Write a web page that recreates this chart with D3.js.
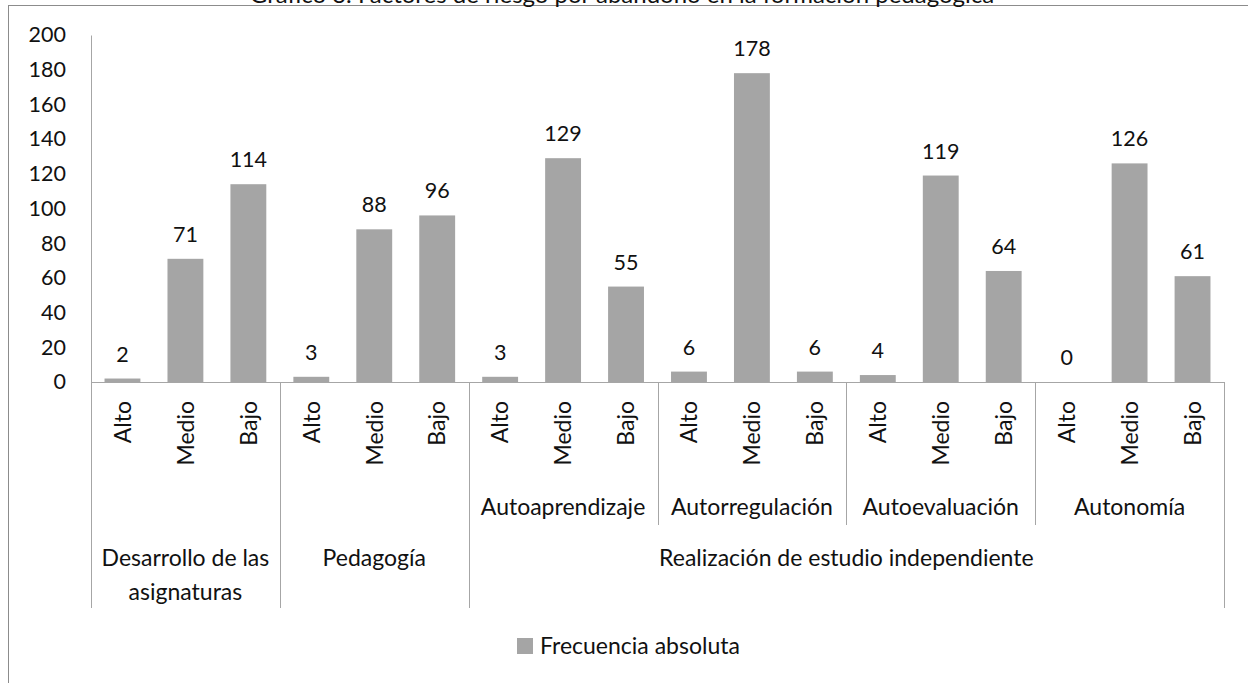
<!DOCTYPE html>
<html>
<head>
<meta charset="utf-8">
<script src="https://cdn.jsdelivr.net/npm/d3@7"></script>
<style>
  html, body { margin: 0; padding: 0; background: #fff; }
  svg { display: block; font-family: Lato, "Open Sans", sans-serif; }
</style>
</head>
<body>
<svg id="chart" width="1248" height="683"></svg>
<script>
// ---- Data ----
const titleText = "Gráfico 3. Factores de riesgo por abandono en la formación pedagógica";
const groups = ["Desarrollo de las asignaturas", "Pedagogía", "Realización de estudio independiente"];
const clusterGroup = [0, 1, 2, 2, 2, 2];
const clusterSub = [null, null, "Autoaprendizaje", "Autorregulación", "Autoevaluación", "Autonomía"];
const levels = ["Alto", "Medio", "Bajo"];
const values = [2, 71, 114, 3, 88, 96, 3, 129, 55, 6, 178, 6, 4, 119, 64, 0, 126, 61];
const yTicks = [0, 20, 40, 60, 80, 100, 120, 140, 160, 180, 200];
const seriesName = "Frecuencia absoluta";

// ---- Build category table ----
const cats = values.map((v, i) => ({
  idx: i,
  level: levels[i % 3],
  cluster: Math.floor(i / 3),
  value: v
}));

const svg = d3.select("#chart");
const pLeft = 91, pRight = 1224, pTop = 35, pBottom = 382;
const barColor = "#a5a5a5";
const lineColor = "#a6a6a6";
const textColor = "#111111";

const x = d3.scaleBand().domain(cats.map(d => d.idx)).range([pLeft, pRight]).paddingInner(0.43).paddingOuter(0.215);
const step = (pRight - pLeft) / cats.length;
const y = d3.scaleLinear().domain([0, 200]).range([pBottom, pTop]);

// outer frame
svg.append("rect").attr("x", 8.5).attr("y", 5.5).attr("width", 1300).attr("height", 800)
  .attr("fill", "none").attr("stroke", "#8c8c8c").attr("stroke-width", 1);

// title (clipped at top in the reference)
svg.append("text").attr("x", 622).attr("y", 3).attr("text-anchor", "middle")
  .attr("font-size", 24).attr("fill", textColor).text(titleText);

// y axis
const yAxis = d3.axisLeft(y).tickValues(yTicks).tickSize(0).tickPadding(25);
const gy = svg.append("g").attr("transform", `translate(${pLeft},0)`).call(yAxis);
gy.select(".domain").attr("stroke", lineColor);
gy.selectAll("text").attr("font-size", 21.5).attr("fill", textColor).attr("font-family", "Lato, sans-serif");

// bars
svg.append("g").selectAll("rect").data(cats).join("rect")
  .attr("x", d => x(d.idx)).attr("width", x.bandwidth())
  .attr("y", d => y(d.value)).attr("height", d => y(0) - y(d.value))
  .attr("fill", barColor);

// value labels
svg.append("g").selectAll("text").data(cats).join("text")
  .attr("x", d => x(d.idx) + x.bandwidth() / 2)
  .attr("y", d => y(d.value) - 17)
  .attr("text-anchor", "middle").attr("font-size", 21.5).attr("fill", textColor)
  .text(d => d.value);

// x axis line
svg.append("line").attr("x1", pLeft).attr("x2", pRight).attr("y1", pBottom + 0.5).attr("y2", pBottom + 0.5)
  .attr("stroke", lineColor);

// separators
const nClusters = clusterSub.length;
for (let c = 0; c <= nClusters; c++) {
  const xx = pLeft + c * 3 * step;
  const isGroupEdge = c === 0 || c === nClusters || clusterGroup[c] !== clusterGroup[c - 1];
  svg.append("line").attr("x1", Math.round(xx) + 0.5).attr("x2", Math.round(xx) + 0.5)
    .attr("y1", pBottom).attr("y2", isGroupEdge ? 608 : 525)
    .attr("stroke", lineColor);
}

// level labels (rotated)
svg.append("g").selectAll("text").data(cats).join("text")
  .attr("transform", d => `translate(${x(d.idx) + x.bandwidth() / 2},401) rotate(-90)`)
  .attr("text-anchor", "end").attr("dy", "0.36em")
  .attr("font-size", 23).attr("fill", textColor)
  .text(d => d.level);

// sub-cluster labels
clusterSub.forEach((s, c) => {
  if (!s) return;
  const cx = pLeft + (c * 3 + 1.5) * step;
  svg.append("text").attr("x", cx).attr("y", 515).attr("text-anchor", "middle")
    .attr("font-size", 23).attr("fill", textColor).text(s);
});

// group labels
groups.forEach((g, gi) => {
  const idxs = clusterGroup.map((v, i) => v === gi ? i : -1).filter(i => i >= 0);
  const x0 = pLeft + idxs[0] * 3 * step;
  const x1 = pLeft + (idxs[idxs.length - 1] + 1) * 3 * step;
  const cx = (x0 + x1) / 2;
  const t = svg.append("text").attr("x", cx).attr("y", 566).attr("text-anchor", "middle")
    .attr("font-size", 23).attr("fill", textColor);
  if (gi === 0) {
    t.append("tspan").attr("x", cx).text("Desarrollo de las");
    t.append("tspan").attr("x", cx).attr("dy", 34).text("asignaturas");
  } else {
    t.text(g);
  }
});

// legend
svg.append("rect").attr("x", 517).attr("y", 638).attr("width", 16).attr("height", 16).attr("fill", barColor);
svg.append("text").attr("x", 540).attr("y", 654).attr("font-size", 23).attr("fill", textColor).text(seriesName);
</script>
</body>
</html>
